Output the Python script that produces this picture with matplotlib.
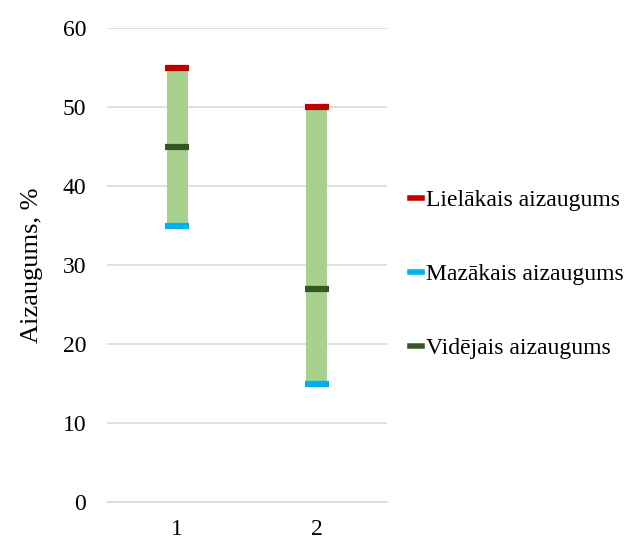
import numpy as np
import matplotlib
matplotlib.use('Agg')
import matplotlib.pyplot as plt
from matplotlib.lines import Line2D

categories = ['1', '2']
lielakais = [55, 50]
mazakais = [35, 15]
videjais = [45, 27]
labels = ['Lielākais aizaugums', 'Mazākais aizaugums', 'Vidējais aizaugums']
colors = ['#C00000', '#00B0F0', '#375623']

plt.rcParams['font.family'] = ['Liberation Serif', 'DejaVu Serif']

fig = plt.figure(figsize=(6.3, 5.41), dpi=100)
ax = fig.add_axes([0.170, 0.072, 0.444, 0.876])

x = np.arange(1, len(categories) + 1)
hi = np.array(lielakais)
lo = np.array(mazakais)
ax.bar(x, hi - lo, bottom=lo, width=0.15, color='#A9D18E', zorder=2)

for vals, c in zip([lielakais, mazakais, videjais], colors):
    ax.plot(x, vals, linestyle='none', marker='_', markersize=17,
            markeredgewidth=4.5, color=c, zorder=3)

ax.set_xlim(0.5, 2.5)
ax.set_ylim(0, 60)
ax.set_yticks(range(0, 61, 10))
ax.set_xticks(x)
ax.set_xticklabels(categories)
ax.grid(axis='y', color='#D9D9D9', linewidth=1.2, zorder=0)
for s in ['top', 'right', 'left']:
    ax.spines[s].set_visible(False)
ax.spines['bottom'].set_color('#D9D9D9')
ax.spines['bottom'].set_linewidth(1.2)
ax.tick_params(length=0, labelsize=17, colors='black', pad=15)
ax.tick_params(axis='x', pad=12)
ax.set_ylabel('Aizaugums, %', fontsize=19, labelpad=14)

handles = [Line2D([], [], color=c, linewidth=4) for c in colors]
fig.legend(handles, labels, loc='upper left', bbox_to_anchor=(0.650, 0.650),
           frameon=False, fontsize=17, handlelength=0.55, handletextpad=0.15,
           labelspacing=2.22, borderpad=0, borderaxespad=0)

fig.savefig('out.png', dpi=100)
